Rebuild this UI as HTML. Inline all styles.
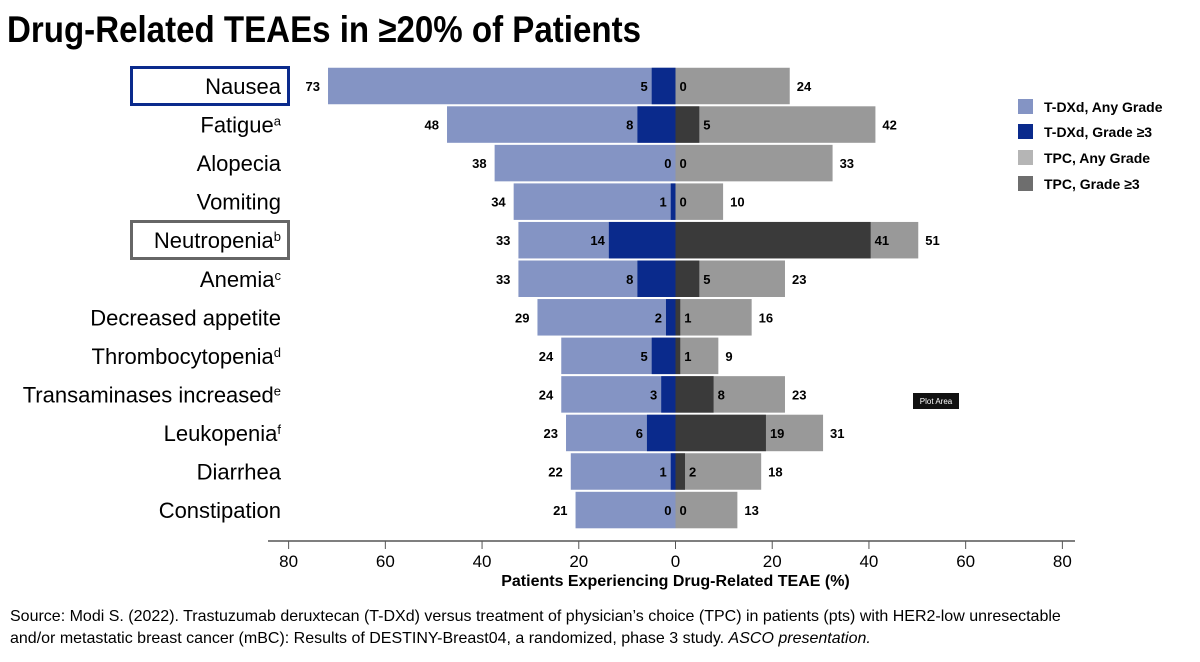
<!DOCTYPE html>
<html><head><meta charset="utf-8">
<style>
body{margin:0;background:#fff;font-family:"Liberation Sans",Arial,sans-serif;}
#wrap{position:relative;width:1200px;height:662px;overflow:hidden;}
svg text{font-family:"Liberation Sans",Arial,sans-serif;}
</style></head>
<body><div id="wrap">
<svg id="chart" width="1200" height="662">
<text x="7" y="42" font-size="37" font-weight="bold" fill="#000" textLength="634" lengthAdjust="spacingAndGlyphs">Drug-Related TEAEs in ≥20% of Patients</text>
<rect x="131.5" y="67.5" width="157" height="37" fill="none" stroke="#0a2a8c" stroke-width="3"/>
<rect x="131.5" y="221.5" width="157" height="37" fill="none" stroke="#666" stroke-width="3"/>
<g id="bars"></g>
<g id="axis"></g>
<g>
<rect x="1018" y="99" width="15" height="15" fill="#8494c4"/>
<text x="1044" y="112" font-size="14" font-weight="bold">T-DXd, Any Grade</text>
<rect x="1018" y="124" width="15" height="15" fill="#0a2a8c"/>
<text x="1044" y="137" font-size="14" font-weight="bold">T-DXd, Grade ≥3</text>
<rect x="1018" y="150" width="15" height="15" fill="#b5b5b5"/>
<text x="1044" y="163" font-size="14" font-weight="bold">TPC, Any Grade</text>
<rect x="1018" y="176" width="15" height="15" fill="#6e6e6e"/>
<text x="1044" y="189" font-size="14" font-weight="bold">TPC, Grade ≥3</text>
</g>
<rect x="913" y="393" width="46" height="16" fill="#111"/>
<text x="936" y="404" font-size="8" fill="#fff" text-anchor="middle">Plot Area</text>
<text x="10" y="621" font-size="16" fill="#000">Source: Modi S. (2022). Trastuzumab deruxtecan (T-DXd) versus treatment of physician’s choice (TPC) in patients (pts) with HER2-low unresectable</text>
<text x="10" y="643" font-size="16" fill="#000">and/or metastatic breast cancer (mBC): Results of DESTINY-Breast04, a randomized, phase 3 study. <tspan font-style="italic">ASCO presentation.</tspan></text>
</svg>
</div>
<script>
const categories=["Nausea","Fatigue","Alopecia","Vomiting","Neutropenia","Anemia","Decreased appetite","Thrombocytopenia","Transaminases increased","Leukopenia","Diarrhea","Constipation"];
const sups=["","a","","","b","c","","d","e","f","",""];
const tdxdAny=[73,48,38,34,33,33,29,24,24,23,22,21];
const tdxdG3=[5,8,0,1,14,8,2,5,3,6,1,0];
const tpcAny=[24,42,33,10,51,23,16,9,23,31,18,13];
const tpcG3=[0,5,0,0,41,5,1,1,8,19,2,0];
const ticks=[80,60,40,20,0,20,40,60,80];
const tickVals=[-80,-60,-40,-20,0,20,40,60,80];

const NS="http://www.w3.org/2000/svg";
const X0=675.5,PX=4.76,AXPX=4.836;
function x(v){return X0+v*PX;}
function xa(v){return X0+v*AXPX;}
function yc(i){return 86+i*38.55;}
const BH=36.5;
const bars=document.getElementById('bars');
function mk(tag,attrs,parent){const e=document.createElementNS(NS,tag);for(const k in attrs)e.setAttribute(k,attrs[k]);parent.appendChild(e);return e;}
categories.forEach((c,i)=>{
  const y=yc(i)-BH/2;
  let r;
  r=mk('rect',{x:x(-tdxdAny[i]),y:y,width:tdxdAny[i]*PX,height:BH,fill:'#8494c4'},bars);
  
  
  r=mk('rect',{x:x(-tdxdG3[i]),y:y,width:tdxdG3[i]*PX,height:BH,fill:'#0a2a8c'},bars);
  
  
  r=mk('rect',{x:x(0),y:y,width:tpcAny[i]*PX,height:BH,fill:'#999999'},bars);
  
  
  r=mk('rect',{x:x(0),y:y,width:tpcG3[i]*PX,height:BH,fill:'#3a3a3a'},bars);
  
  
  const ty=yc(i)+5;
  let t;
  t=mk('text',{x:x(-tdxdAny[i])-8,y:ty,'font-size':13,'font-weight':'bold','text-anchor':'end'},bars);t.textContent=tdxdAny[i];
  
  
  t=mk('text',{x:x(-tdxdG3[i])-4,y:ty,'font-size':13,'font-weight':'bold','text-anchor':'end'},bars);t.textContent=tdxdG3[i];
  
  
  t=mk('text',{x:x(tpcG3[i])+4,y:ty,'font-size':13,'font-weight':'bold'},bars);t.textContent=tpcG3[i];
  
  
  t=mk('text',{x:x(tpcAny[i])+7,y:ty,'font-size':13,'font-weight':'bold'},bars);t.textContent=tpcAny[i];
  
  
  t=mk('text',{x:281,y:yc(i)+8,'font-size':22,'text-anchor':'end'},bars);
  t.textContent=c;
  if(sups[i]){const s=mk('tspan',{'font-size':13,dy:-7},t);s.textContent=sups[i];}
  
  
});
const ax=document.getElementById('axis');
let l=mk('line',{x1:268,x2:1075,y1:541,y2:541,stroke:'#555','stroke-width':1.5},ax);


tickVals.forEach((v,k)=>{
  let tl=mk('line',{x1:xa(v),x2:xa(v),y1:541,y2:549,stroke:'#555','stroke-width':1},ax);
  
  
  let t=mk('text',{x:xa(v),y:567,'font-size':17,'text-anchor':'middle'},ax);t.textContent=ticks[k];
  
  
});
let at=mk('text',{x:X0,y:586,'font-size':16,'font-weight':'bold','text-anchor':'middle'},ax);
at.textContent='Patients Experiencing Drug-Related TEAE (%)';


</script>
</body></html>
